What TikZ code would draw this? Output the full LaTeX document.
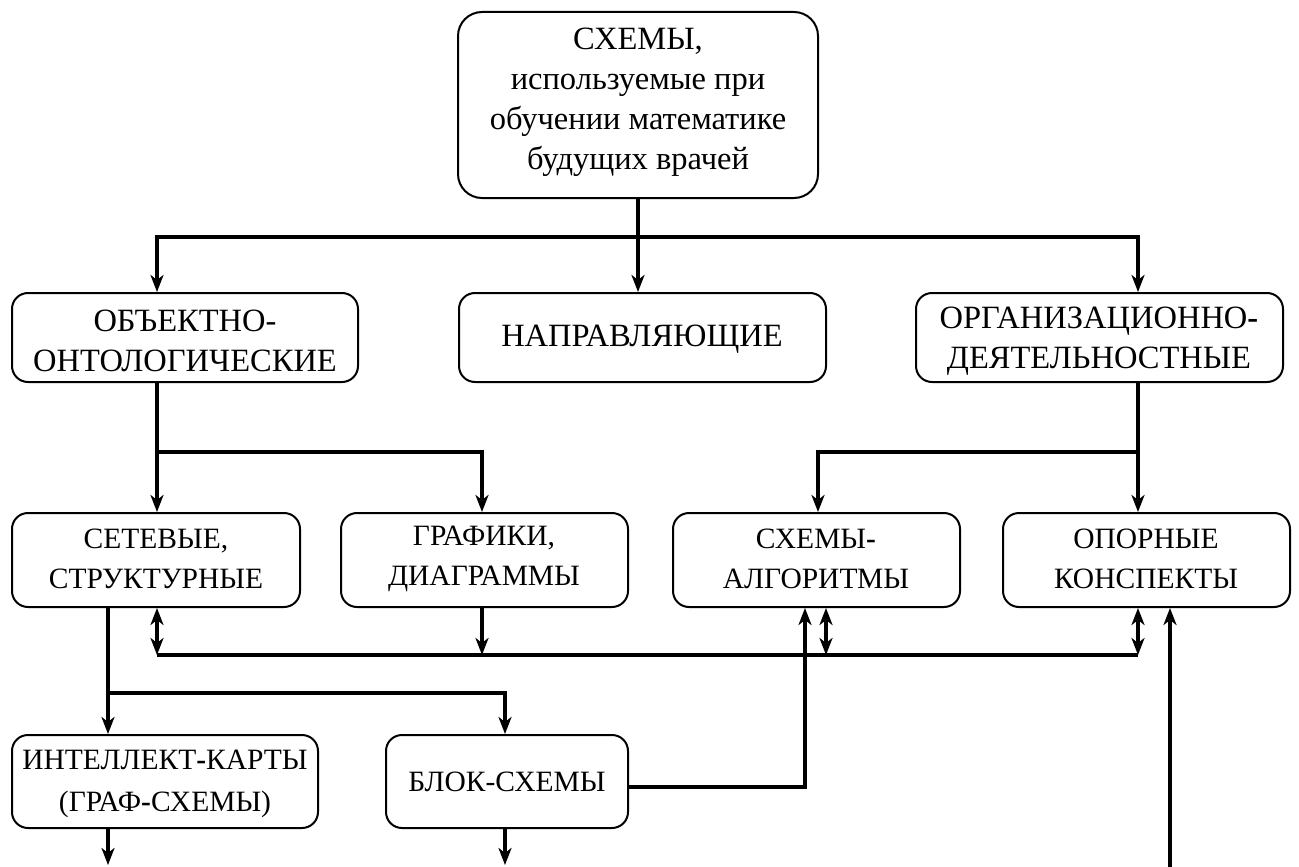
\documentclass[tikz,border=0pt]{standalone}
\usepackage{fontspec}
\setmainfont{Liberation Serif}
\usetikzlibrary{arrows.meta}
\begin{document}
\begin{tikzpicture}[x=1pt,y=-1pt,
  box/.style={draw, line width=2pt, rounded corners=16pt, inner sep=0pt},
  topbox/.style={box, rounded corners=24pt},
  big/.style={align=center, inner sep=0pt, font=\fontsize{32.5}{40}\selectfont},
  small/.style={align=center, inner sep=0pt, font=\fontsize{29.5}{40}\selectfont},
  tip/.tip={Stealth[length=17pt,width=13pt,inset=5pt]},
  wire/.style={line width=3.4pt},
  conn/.style={wire, -tip},
  both/.style={wire, tip-tip}]
\useasboundingbox (0,0) rectangle (1299,867);

% boxes
\node[topbox, minimum width=360pt, minimum height=186pt] (top) at (638,105) {};
\node[box, minimum width=346pt, minimum height=89pt] (A) at (185,337.5) {};
\node[box, minimum width=367pt, minimum height=89pt] (B) at (642.5,337.5) {};
\node[box, minimum width=367pt, minimum height=89pt] (C) at (1099.5,337.5) {};
\node[box, minimum width=288pt, minimum height=94pt] (D) at (156,560) {};
\node[box, minimum width=287pt, minimum height=94pt] (E) at (484.5,560) {};
\node[box, minimum width=287pt, minimum height=94pt] (F) at (816.5,560) {};
\node[box, minimum width=287pt, minimum height=94pt] (G) at (1146.5,560) {};
\node[box, minimum width=306pt, minimum height=93pt] (H) at (165,781.5) {};
\node[box, minimum width=242pt, minimum height=93pt] (I) at (507,781.5) {};

% labels
\node[big] (topt) at (638,102) {СХЕМЫ,\\используемые при\\обучении математике\\будущих врачей};
\node[big] (At) at (185,341) {ОБЪЕКТНО-\\ОНТОЛОГИЧЕСКИЕ};
\node[big] (Bt) at (642,339) {НАПРАВЛЯЮЩИЕ};
\node[big] (Ct) at (1099,341) {ОРГАНИЗАЦИОННО\textbf{-}\\ДЕЯТЕЛЬНОСТНЫЕ};
\node[small] (Dt) at (156,559) {СЕТЕВЫЕ,\\СТРУКТУРНЫЕ};
\node[small] (Et) at (484,559) {ГРАФИКИ,\\ДИАГРАММЫ};
\node[small] (Ft) at (816,559) {СХЕМЫ\textbf{-}\\АЛГОРИТМЫ};
\node[small] (Gt) at (1146,559) {ОПОРНЫЕ\\КОНСПЕКТЫ};
\node[small, font=\fontsize{29.5}{41.5}\selectfont] (Ht) at (165,784) {ИНТЕЛЛЕКТ\textbf{-}КАРТЫ\\(ГРАФ\textbf{-}СХЕМЫ)};
\node[small] (It) at (507,782) {БЛОК-СХЕМЫ};

% junction points
\coordinate (barL) at (157,237);
\coordinate (barR) at (1138,237);
\coordinate (aj) at (157,452);
\coordinate (ej) at (482,452);
\coordinate (cj) at (1138,452);
\coordinate (fj) at (818,452);
\coordinate (bL) at (157,655);
\coordinate (bE) at (482,655);
\coordinate (bF) at (826,655);
\coordinate (bR) at (1138,655);
\coordinate (dj) at (108,693);
\coordinate (ij) at (505,693);
\coordinate (kf) at (805,787);
\coordinate (hout) at (108,865);
\coordinate (iout) at (505,865);
\coordinate (gin) at (1170,867);

% first level
\draw[conn] (top.south) |- (barL) -- (barL |- A.north);
\draw[conn] (top.south) |- (barR) -- (barR |- C.north);
\draw[conn] (top.south) -- (top.south |- B.north);

% second level
\draw[conn] (A.south -| aj) -- (aj |- D.north);
\draw[conn] (A.south -| aj) |- (ej) -- (ej |- E.north);
\draw[conn] (C.south -| cj) -- (cj |- G.north);
\draw[conn] (C.south -| cj) |- (fj) -- (fj |- F.north);

% common link bar
\draw[wire] (bL) -- (bR);
\draw[both] (D.south -| bL) -- (bL);
\draw[conn] (E.south -| bE) -- (bE);
\draw[both] (F.south -| bF) -- (bF);
\draw[both] (G.south -| bR) -- (bR);

% third level
\draw[conn] (D.south -| dj) -- (dj |- H.north);
\draw[conn] (D.south -| dj) |- (ij) -- (ij |- I.north);
\draw[conn] (I.east |- kf) -| (kf |- F.south);

% outgoing and incoming
\draw[conn] (H.south -| hout) -- (hout);
\draw[conn] (I.south -| iout) -- (iout);
\draw[conn] (gin) -- (gin |- G.south);
\end{tikzpicture}
\end{document}
